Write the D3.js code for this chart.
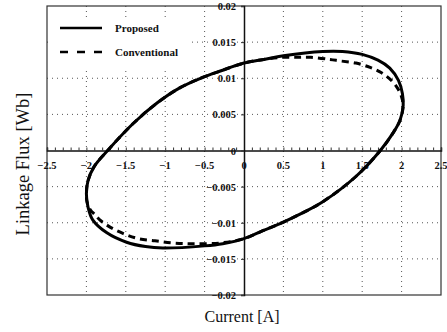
<!DOCTYPE html>
<html lang="en">
<head>
  <meta charset="UTF-8" />
  <title>Linkage flux loop</title>
  <script src="https://d3js.org/d3.v7.min.js"></script>
  <style>
    body { margin: 0; background: #fff; }
    svg { display: block; }
    .tick-label { font-family: "Liberation Serif", "Times New Roman", serif; font-weight: bold; font-size: 10.5px; fill: #111; }
    .title { font-family: "Liberation Serif", "Times New Roman", serif; font-size: 16px; fill: #111; }
    .legend-text { font-family: "Liberation Serif", "Times New Roman", serif; font-weight: bold; font-size: 11px; fill: #111; }
  </style>
</head>
<body>
  <svg width="447" height="332"></svg>
  <script>
    // data: [current A, flux Wb]
    const proposed = [
      [-2.00, -0.0060], [-1.98, -0.0042], [-1.90, -0.0022], [-1.73, 0.0000],
      [-1.41, 0.0037], [-1.10, 0.0066], [-0.81, 0.0087], [-0.55, 0.0100],
      [-0.30, 0.0110], [0.00, 0.0121], [0.25, 0.0126], [0.50, 0.0131],
      [1.00, 0.0137], [1.25, 0.0137], [1.50, 0.0133], [1.70, 0.0125],
      [1.85, 0.0114], [1.96, 0.0097], [2.01, 0.0079], [2.02, 0.0062],
      [1.98, 0.0042], [1.89, 0.0024], [1.73, 0.0000], [1.42, -0.0036],
      [1.00, -0.0071], [0.75, -0.0086], [0.50, -0.0099], [0.24, -0.0111],
      [0.00, -0.0122], [-0.27, -0.0129], [-0.50, -0.0132], [-1.03, -0.0135],
      [-1.25, -0.0133], [-1.49, -0.0127], [-1.74, -0.0114], [-1.92, -0.0096],
      [-1.98, -0.0078]
    ];
    const conventional = [
      [-2.00, -0.0060], [-1.98, -0.0042], [-1.90, -0.0022], [-1.73, 0.0000],
      [-1.41, 0.0037], [-1.10, 0.0066], [-0.81, 0.0087], [-0.55, 0.0100],
      [-0.30, 0.0110], [0.00, 0.0121], [0.25, 0.0126], [0.50, 0.0129],
      [0.69, 0.0129], [0.85, 0.0129], [1.09, 0.0126], [1.22, 0.0124],
      [1.42, 0.0121], [1.60, 0.0115], [1.74, 0.0108], [1.87, 0.0097],
      [1.95, 0.0086], [2.00, 0.0074], [2.02, 0.0062], [1.98, 0.0042],
      [1.89, 0.0024], [1.73, 0.0000], [1.42, -0.0036], [1.00, -0.0071],
      [0.75, -0.0086], [0.50, -0.0099], [0.24, -0.0111], [0.00, -0.0122],
      [-0.30, -0.0128], [-0.65, -0.0129], [-0.90, -0.0128], [-1.13, -0.0125],
      [-1.34, -0.0122], [-1.53, -0.0115], [-1.70, -0.0106], [-1.83, -0.0096],
      [-1.89, -0.0089], [-1.95, -0.0082], [-1.99, -0.0072]
    ];
    const xTicks = [-2.5, -2, -1.5, -1, -0.5, 0, 0.5, 1, 1.5, 2, 2.5];
    const yTicks = [-0.02, -0.015, -0.01, -0.005, 0, 0.005, 0.01, 0.015, 0.02];
    const seriesNames = ["Proposed", "Conventional"];

    const margin = { top: 6, right: 6, bottom: 37, left: 47 },
          width = 447 - margin.left - margin.right,
          height = 332 - margin.top - margin.bottom;

    const svg = d3.select("svg")
      .append("g")
      .attr("transform", `translate(${margin.left},${margin.top})`);

    const x = d3.scaleLinear().domain([-2.5, 2.5]).range([0, width]);
    const y = d3.scaleLinear().domain([-0.02, 0.02]).range([height, 0]);

    // dotted grid
    svg.selectAll(".vgrid")
      .data(xTicks.filter(d => d !== 0 && Math.abs(d) !== 2.5))
      .enter().append("line")
      .attr("x1", d => x(d)).attr("x2", d => x(d))
      .attr("y1", 0).attr("y2", height)
      .attr("stroke", "#555").attr("stroke-width", 1)
      .attr("stroke-dasharray", "1,4");
    svg.selectAll(".hgrid")
      .data(yTicks.filter(d => d !== 0 && Math.abs(d) !== 0.02))
      .enter().append("line")
      .attr("x1", 0).attr("x2", width)
      .attr("y1", d => y(d)).attr("y2", d => y(d))
      .attr("stroke", "#555").attr("stroke-width", 1)
      .attr("stroke-dasharray", "1,4");

    // frame
    svg.append("rect")
      .attr("width", width).attr("height", height)
      .attr("fill", "none").attr("stroke", "#333").attr("stroke-width", 1.2);

    // legend box (white, covers grid)
    svg.append("rect")
      .attr("x", 4).attr("y", 13).attr("width", 140).attr("height", 50)
      .attr("fill", "#fff");

    // axes through the origin
    const xAxis = svg.append("g")
      .attr("transform", `translate(0,${y(0)})`)
      .call(d3.axisTop(x).ticks(50).tickSize(3).tickFormat(""));
    xAxis.select(".domain").attr("stroke", "#111").attr("stroke-width", 1.5);
    xAxis.selectAll(".tick line").attr("stroke", "#333");

    const yAxis = svg.append("g")
      .attr("transform", `translate(${x(0)},0)`)
      .call(d3.axisLeft(y).tickValues(yTicks).tickSize(3).tickFormat(""));
    yAxis.select(".domain").attr("stroke", "#111").attr("stroke-width", 1.5);
    yAxis.selectAll(".tick line").attr("stroke", "#333");

    // tick labels
    svg.selectAll(".xlab")
      .data(xTicks)
      .enter().append("text")
      .attr("class", "tick-label")
      .attr("x", d => x(d))
      .attr("y", y(0) + 18)
      .attr("text-anchor", "middle")
      .text(d => d3.format("")(d));
    svg.selectAll(".ylab")
      .data(yTicks)
      .enter().append("text")
      .attr("class", "tick-label")
      .attr("x", x(0) - 8)
      .attr("y", d => y(d) + 4)
      .attr("text-anchor", "end")
      .text(d => d3.format("")(d));

    // loops
    const line = d3.line()
      .x(d => x(d[0]))
      .y(d => y(d[1]))
      .curve(d3.curveCatmullRomClosed);

    svg.append("path")
      .datum(proposed)
      .attr("fill", "none")
      .attr("stroke", "#000")
      .attr("stroke-width", 3)
      .attr("d", line);

    svg.append("path")
      .datum(conventional)
      .attr("fill", "none")
      .attr("stroke", "#000")
      .attr("stroke-width", 3)
      .attr("stroke-dasharray", "7,5")
      .attr("d", line);

    // legend
    const legend = svg.append("g").attr("transform", "translate(13,22)");
    seriesNames.forEach((name, i) => {
      const g = legend.append("g").attr("transform", `translate(0,${i * 24})`);
      g.append("line")
        .attr("x1", 0).attr("x2", 42)
        .attr("stroke", "#000").attr("stroke-width", 2.5)
        .attr("stroke-dasharray", i === 1 ? "8,9" : null);
      g.append("text")
        .attr("class", "legend-text")
        .attr("x", 55).attr("y", 4)
        .text(name);
    });

    // axis titles
    svg.append("text")
      .attr("class", "title")
      .attr("x", x(0) - 2)
      .attr("y", 316)
      .attr("text-anchor", "middle")
      .text("Current [A]");
    svg.append("text")
      .attr("class", "title")
      .attr("transform", `translate(${29 - margin.left},${164 - margin.top}) rotate(-90)`)
      .attr("text-anchor", "middle")
      .style("font-size", "18.5px")
      .text("Linkage Flux [Wb]");
  </script>
</body>
</html>
